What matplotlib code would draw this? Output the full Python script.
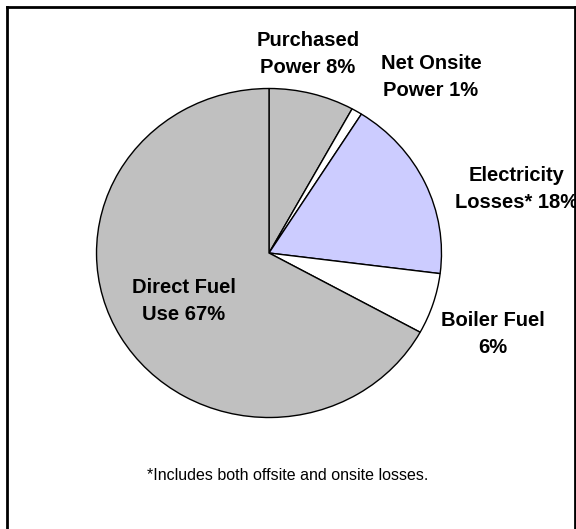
import matplotlib
matplotlib.use("Agg")
import matplotlib.pyplot as plt

# energy use breakdown, percent
labels = ["Purchased\nPower {}%", "Net Onsite\nPower {}%", "Electricity\nLosses* {}%",
          "Boiler Fuel\n{}%", "Direct Fuel\nUse {}%"]
values = [8, 1, 18, 6, 67]
colors = ["#C0C0C0", "#FFFFFF", "#CCCCFF", "#FFFFFF", "#C0C0C0"]
note = "*Includes both offsite and onsite losses."

# label centres in pixels (x from left, y from top)
label_xy = [(308, 54), (431, 77), (517, 189), (493, 334), (184, 301)]

plt.rcParams['font.family'] = ['Liberation Sans', 'DejaVu Sans']

W, H = 576, 529
fig = plt.figure(figsize=(W / 100, H / 100), dpi=100)

# pie axes, slightly wider than tall
cx, cy, rx, ry = 269, 253, 173, 165
ax = fig.add_axes([(cx - rx) / W, 1 - (cy + ry) / H, 2 * rx / W, 2 * ry / H])
ax.pie(values, colors=colors, startangle=90, counterclock=False,
       wedgeprops=dict(edgecolor="black", linewidth=1))
ax.set_aspect("auto")
ax.set_xlim(-1.003, 1.003)
ax.set_ylim(-1.003, 1.003)
ax.axis("off")

# outer frame on top, data coords = pixels
fx0, fy0, fx1, fy1 = 7, 7, 575, 531
frame = fig.add_axes([fx0 / W, 1 - fy1 / H, (fx1 - fx0) / W, (fy1 - fy0) / H])
frame.set_xlim(fx0, fx1)
frame.set_ylim(fy1, fy0)
frame.set_xticks([])
frame.set_yticks([])
frame.patch.set_alpha(0)
for s in frame.spines.values():
    s.set_linewidth(2)
    s.set_zorder(10)

for lab, v, (x, y) in zip(labels, values, label_xy):
    frame.text(x, y, lab.format(v), ha="center", va="center", fontsize=14.5,
               fontweight="bold", linespacing=1.55, clip_on=True, zorder=5)

frame.text(288, 475, note, ha="center", va="center", fontsize=11.5)

fig.savefig("out.png", dpi=100)
